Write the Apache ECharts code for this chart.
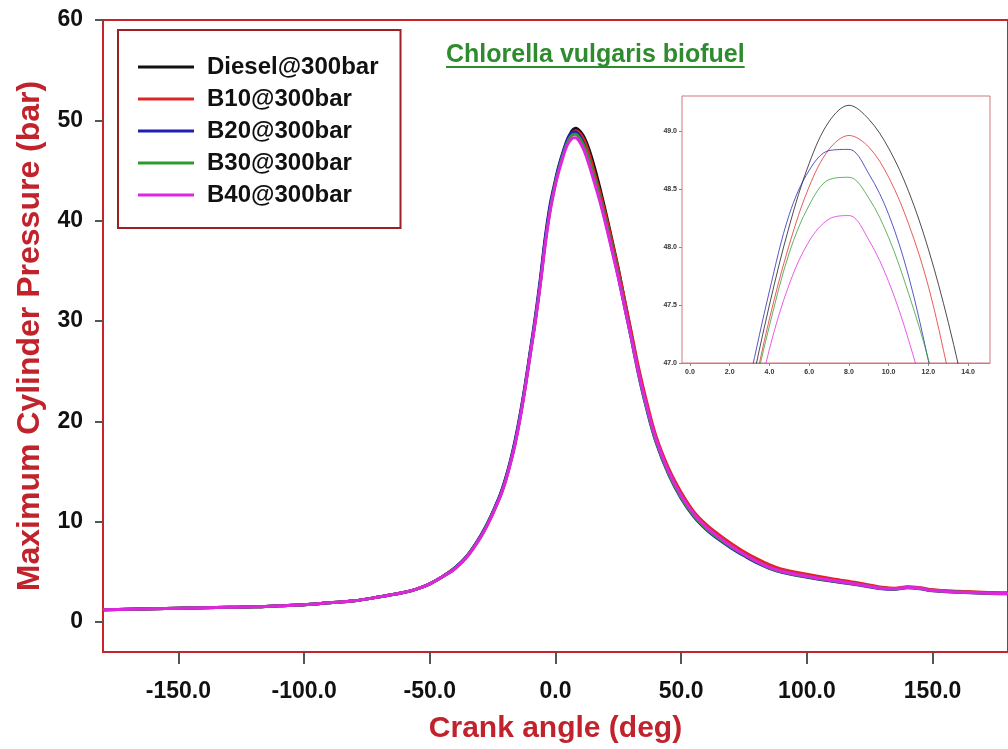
<!DOCTYPE html>
<html>
<head>
<meta charset="utf-8">
<script src="https://cdn.jsdelivr.net/npm/echarts@6/dist/echarts.min.js"></script>
<style>
  html, body { margin: 0; padding: 0; background: #ffffff; }
  #chart { width: 1008px; height: 749px; }
</style>
</head>
<body>
<div id="chart"></div>
<script>
const FONT = '"Liberation Sans", Arial, sans-serif';

const seriesNames = ['Diesel@300bar', 'B10@300bar', 'B20@300bar', 'B30@300bar', 'B40@300bar'];
const titleText = 'Chlorella vulgaris biofuel';

const crankAngles = [-180,-170,-160,-150,-140,-130,-120,-110,-100,-90,-80,-70,-60,-55,-50,-45,-40,-35,
  -30,-28,-26,-24,-22,-20,-18,-16,-14,-12,-10,-8,-6,-4,-2,
  0,1,2,3,4,5,6,7,8,9,10,11,12,13,14,15,16,
  18,20,22,25,28,30,33,36,40,45,50,55,60,65,70,75,80,85,90,100,110,120,130,135,140,145,150,160,170,180];

const diesel = [1.2,1.25,1.3,1.35,1.4,1.45,1.5,1.6,1.7,1.9,2.1,2.5,2.95,3.3,3.8,4.5,5.35,6.6,
  8.4,9.3,10.3,11.4,12.6,14.1,15.9,18.0,20.6,23.6,26.9,30.2,34.0,38.2,41.5,
  43.9,44.95,45.9,46.72,47.5,48.18,48.72,49.08,49.22,49.1,48.85,48.48,47.98,47.35,46.6,45.75,44.85,
  42.9,40.8,38.6,35.2,31.4,28.9,25.1,21.9,18.2,15.0,12.6,10.8,9.5,8.5,7.6,6.8,6.1,5.5,5.1,4.6,4.2,3.8,3.4,3.3,3.45,3.35,3.15,3.0,2.9,2.85];

const b10 = [1.2,1.25,1.3,1.35,1.4,1.45,1.5,1.6,1.7,1.9,2.1,2.5,2.95,3.3,3.8,4.5,5.35,6.6,
  8.4,9.3,10.3,11.4,12.5,14.0,15.8,17.9,20.5,23.5,26.8,30.1,33.9,38.1,41.4,
  43.8,44.85,45.8,46.6,47.38,48.02,48.52,48.84,48.96,48.86,48.6,48.2,47.66,46.92,46.1,45.2,44.3,
  42.5,40.5,38.4,35.1,31.5,29.1,25.4,22.2,18.5,15.3,12.9,11.0,9.7,8.7,7.8,7.0,6.3,5.7,5.25,4.75,4.3,3.9,3.45,3.35,3.5,3.4,3.2,3.05,2.95,2.9];

const b20 = [1.2,1.25,1.3,1.35,1.4,1.45,1.5,1.6,1.7,1.9,2.1,2.5,2.95,3.3,3.8,4.5,5.4,6.65,
  8.5,9.4,10.4,11.5,12.7,14.2,16.0,18.2,20.8,23.8,27.1,30.5,34.3,38.5,41.8,
  44.1,45.15,46.05,46.85,47.62,48.28,48.66,48.83,48.84,48.63,48.28,47.75,47.02,46.2,45.35,44.5,43.65,
  41.8,39.8,37.7,34.4,30.8,28.4,24.7,21.5,17.9,14.7,12.3,10.5,9.2,8.2,7.35,6.6,5.9,5.35,4.95,4.45,4.05,3.7,3.3,3.25,3.4,3.3,3.1,2.95,2.85,2.8];

const b30 = [1.2,1.25,1.3,1.35,1.4,1.45,1.5,1.6,1.7,1.9,2.1,2.5,2.95,3.3,3.8,4.5,5.35,6.6,
  8.4,9.3,10.3,11.4,12.5,14.0,15.8,17.9,20.5,23.5,26.8,30.1,33.8,37.9,41.3,
  43.8,44.8,45.75,46.58,47.32,47.95,48.36,48.58,48.6,48.42,48.08,47.6,47.03,46.3,45.5,44.65,43.8,
  41.9,39.9,37.8,34.5,30.9,28.5,24.8,21.6,18.0,14.8,12.4,10.6,9.3,8.3,7.45,6.7,6.0,5.4,5.0,4.5,4.1,3.75,3.35,3.28,3.42,3.32,3.12,2.97,2.87,2.82];

const b40 = [1.2,1.25,1.3,1.35,1.4,1.45,1.5,1.6,1.7,1.9,2.1,2.5,2.95,3.3,3.8,4.5,5.3,6.55,
  8.35,9.2,10.2,11.3,12.5,13.9,15.7,17.8,20.4,23.4,26.7,30.0,33.7,37.8,41.1,
  43.6,44.6,45.5,46.35,47.12,47.68,48.05,48.24,48.27,48.06,47.7,47.2,46.58,45.85,45.05,44.2,43.35,
  41.6,39.6,37.5,34.3,30.8,28.5,24.9,21.8,18.2,15.0,12.6,10.8,9.45,8.45,7.55,6.75,6.05,5.45,5.05,4.55,4.15,3.75,3.35,3.3,3.45,3.35,3.12,2.98,2.88,2.83];

const mainYTicks = [0, 10, 20, 30, 40, 50, 60];
const mainXTicks = [-150, -100, -50, 0, 50, 100, 150];
const insetYTicks = [47.0, 47.5, 48.0, 48.5, 49.0];
const insetXTicks = [0, 2, 4, 6, 8, 10, 12, 14];

const colors = ['#111111', '#e02424', '#1f1fb4', '#2e9a2e', '#e024e0'];
const allData = [diesel, b10, b20, b30, b40];

const AXIS_RED = '#c8232c';
const TITLE_GREEN = '#2e8b2e';

const chart = echarts.init(document.getElementById('chart'), null, { renderer: 'canvas' });

// measure title width for underline
const cv = document.createElement('canvas').getContext('2d');
cv.font = 'bold 25px ' + FONT;
const titleW = cv.measureText(titleText).width;
const titleLeft = 446;

const mainSeries = allData.map((arr, k) => ({
  name: seriesNames[k],
  type: 'line',
  xAxisIndex: 0, yAxisIndex: 0,
  data: crankAngles.map((a, i) => [a, arr[i]]),
  symbol: 'none',
  smooth: 0.35,
  lineStyle: { color: colors[k], width: 3 },
  itemStyle: { color: colors[k] },
  z: 2 + k
}));

const insetSeries = allData.map((arr, k) => ({
  name: seriesNames[k],
  type: 'line',
  xAxisIndex: 1, yAxisIndex: 1,
  data: crankAngles.map((a, i) => [a, arr[i]]),
  symbol: 'none',
  smooth: 0.35,
  clip: true,
  lineStyle: { color: colors[k], width: 1, opacity: 0.75 },
  itemStyle: { color: colors[k] },
  z: 12 + k
}));

const option = {
  backgroundColor: '#ffffff',
  animation: false,
  textStyle: { fontFamily: FONT },
  title: {
    text: titleText,
    left: titleLeft - 5,
    top: 38,
    textStyle: { color: TITLE_GREEN, fontSize: 25, fontWeight: 'bold', fontFamily: FONT }
  },
  graphic: [{
    type: 'line',
    shape: { x1: titleLeft, y1: 67, x2: titleLeft + titleW, y2: 67 },
    style: { stroke: TITLE_GREEN, lineWidth: 2 },
    z: 100
  }],
  legend: {
    data: seriesNames,
    orient: 'vertical',
    left: 118,
    top: 30,
    padding: [25, 22, 21, 20],
    itemGap: 8,
    itemWidth: 56,
    itemHeight: 3,
    icon: 'rect',
    backgroundColor: '#ffffff',
    borderColor: '#9e1f24',
    borderWidth: 2,
    borderRadius: 0,
    textStyle: { color: '#111', fontSize: 24, fontWeight: 'bold', fontFamily: FONT, lineHeight: 24, padding: [0, 0, 0, 8] },
    z: 20
  },
  grid: [
    { left: 103, top: 20, right: -2, bottom: 97, show: true, borderColor: AXIS_RED, borderWidth: 2, backgroundColor: 'transparent', z: 0 },
    { left: 682, top: 96, width: 308, height: 267, show: true, borderColor: '#d0767e', borderWidth: 1, backgroundColor: '#ffffff', z: 10 }
  ],
  xAxis: [
    {
      gridIndex: 0, type: 'value', min: -180, max: 180,
      name: 'Crank angle (deg)', nameLocation: 'middle', nameGap: 62,
      nameTextStyle: { color: '#c0232b', fontSize: 30, fontWeight: 'bold', fontFamily: FONT },
      axisLine: { show: true, onZero: false, lineStyle: { color: AXIS_RED, width: 2 } },
      axisTick: { show: true, length: 12, inside: false, customValues: mainXTicks, lineStyle: { color: '#555', width: 2 } },
      axisLabel: { show: true, customValues: mainXTicks, margin: 28, color: '#111', fontSize: 23, fontWeight: 'bold', fontFamily: FONT,
        formatter: v => Number(v).toFixed(1) },
      splitLine: { show: false }
    },
    {
      gridIndex: 1, type: 'value', min: -0.4, max: 15.1,
      axisLine: { show: true, onZero: false, lineStyle: { color: '#d0767e', width: 1 } },
      axisTick: { show: true, length: 3, customValues: insetXTicks, lineStyle: { color: '#888' } },
      axisLabel: { show: true, customValues: insetXTicks, margin: 6, color: '#333', fontSize: 7, fontWeight: 'bold', fontFamily: FONT,
        formatter: v => Number(v).toFixed(1) },
      splitLine: { show: false }
    }
  ],
  yAxis: [
    {
      gridIndex: 0, type: 'value', min: -3, max: 60,
      name: 'Maximum Cylinder Pressure (bar)', nameLocation: 'middle', nameGap: 57, nameRotate: 90,
      nameTextStyle: { color: '#c0232b', fontSize: 32, fontWeight: 'bold', fontFamily: FONT },
      axisLine: { show: true, onZero: false, lineStyle: { color: AXIS_RED, width: 2 } },
      axisTick: { show: true, length: 8, customValues: mainYTicks, lineStyle: { color: '#555', width: 2 } },
      axisLabel: { show: true, customValues: mainYTicks, margin: 20, color: '#111', fontSize: 23, fontWeight: 'bold', fontFamily: FONT },
      splitLine: { show: false }
    },
    {
      gridIndex: 1, type: 'value', min: 47.0, max: 49.3,
      axisLine: { show: true, onZero: false, lineStyle: { color: '#d0767e', width: 1 } },
      axisTick: { show: true, length: 3, customValues: insetYTicks, lineStyle: { color: '#888' } },
      axisLabel: { show: true, customValues: insetYTicks, margin: 5, color: '#333', fontSize: 7, fontWeight: 'bold', fontFamily: FONT,
        formatter: v => Number(v).toFixed(1) },
      splitLine: { show: false }
    }
  ],
  series: mainSeries.concat(insetSeries)
};

chart.setOption(option);
</script>
</body>
</html>
